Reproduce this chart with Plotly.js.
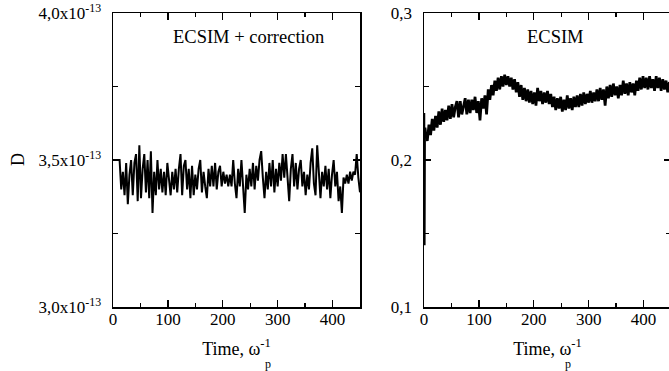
<!DOCTYPE html>
<html><head><meta charset="utf-8">
<script src="https://cdn.plot.ly/plotly-3.0.1.min.js"></script>
<style>html,body{margin:0;padding:0;overflow:hidden;background:#fff}#chart{width:671px;height:371px}</style>
</head><body><div id="chart"></div>
<script>
// Left panel: D (units of 1e-13), sampled every 3 time units from t=0
const leftStart = 0, leftStep = 3;
const leftD = [
3.50,3.50,3.50,3.50,3.50,3.40,3.46,3.38,3.49,3.35,
3.45,3.50,3.38,3.49,3.52,3.36,3.55,3.37,3.47,3.52,
3.39,3.50,3.37,3.53,3.32,3.46,3.38,3.50,3.40,3.47,
3.39,3.46,3.38,3.49,3.43,3.38,3.46,3.40,3.47,3.39,
3.47,3.52,3.38,3.48,3.50,3.40,3.47,3.37,3.48,3.38,
3.45,3.40,3.47,3.50,3.39,3.46,3.41,3.37,3.47,3.41,
3.48,3.41,3.49,3.40,3.46,3.48,3.41,3.46,3.42,3.45,
3.41,3.45,3.41,3.50,3.42,3.37,3.47,3.41,3.50,3.39,
3.32,3.45,3.40,3.47,3.41,3.49,3.40,3.48,3.43,3.50,
3.53,3.44,3.37,3.46,3.40,3.49,3.41,3.50,3.39,3.47,
3.41,3.49,3.43,3.52,3.44,3.52,3.42,3.36,3.47,3.52,
3.41,3.49,3.40,3.47,3.50,3.41,3.46,3.38,3.45,3.40,
3.49,3.54,3.42,3.38,3.55,3.45,3.37,3.46,3.41,3.48,
3.40,3.47,3.37,3.45,3.50,3.41,3.46,3.36,3.41,3.32,
3.44,3.42,3.45,3.42,3.46,3.43,3.46,3.45,3.52,3.44,
3.39
];
// Right panel: initial transient
const rightInitT = [0, 0.6, 1.2, 2, 3];
const rightInitD = [0.232, 0.142, 0.214, 0.222, 0.219];
// Right panel: main series sampled every 3 time units from t=3
const rightStart = 3, rightStep = 3;
const rightD = [
0.219,0.213,0.224,0.217,0.228,0.220,0.230,0.222,0.233,0.224,
0.235,0.226,0.234,0.227,0.237,0.228,0.238,0.229,0.236,0.240,
0.229,0.240,0.231,0.238,0.242,0.231,0.241,0.232,0.241,0.234,
0.243,0.232,0.240,0.227,0.242,0.235,0.244,0.231,0.248,0.241,
0.251,0.244,0.254,0.247,0.256,0.248,0.257,0.250,0.258,0.251,
0.257,0.250,0.256,0.248,0.255,0.246,0.253,0.243,0.251,0.241,
0.249,0.240,0.248,0.239,0.247,0.238,0.246,0.237,0.249,0.240,
0.247,0.238,0.246,0.239,0.247,0.238,0.245,0.236,0.243,0.234,
0.242,0.235,0.243,0.233,0.241,0.234,0.244,0.235,0.242,0.234,
0.243,0.236,0.244,0.236,0.245,0.237,0.246,0.238,0.245,0.239,
0.247,0.239,0.246,0.240,0.248,0.240,0.249,0.241,0.248,0.237,
0.250,0.242,0.251,0.243,0.252,0.244,0.250,0.242,0.251,0.244,
0.254,0.245,0.252,0.244,0.253,0.246,0.252,0.244,0.254,0.247,
0.256,0.248,0.257,0.249,0.256,0.248,0.257,0.249,0.255,0.247,
0.257,0.249,0.256,0.247,0.255,0.248,0.254,0.246,0.253,0.247
];
const leftTickVals = [3.0, 3.5, 4.0];
const leftTickText = ['3,0x10<sup>-13</sup>','3,5x10<sup>-13</sup>','4,0x10<sup>-13</sup>'];
const rightTickVals = [0.1, 0.2, 0.3];
const rightTickText = ['0,1','0,2','0,3'];
const xTitle = 'Time, ω<sup>-1</sup>';

const FONT = 'Liberation Serif, Times New Roman, serif';
const W = 671, H = 371;

const traces = [
  {type:'scatter', mode:'lines', x0:leftStart, dx:leftStep, y:leftD, xaxis:'x', yaxis:'y',
   line:{color:'black', width:2}},
  {type:'scatter', mode:'lines', x:rightInitT, y:rightInitD, xaxis:'x2', yaxis:'y2',
   line:{color:'black', width:2.5}},
  {type:'scatter', mode:'lines', x0:rightStart, dx:rightStep, y:rightD, xaxis:'x2', yaxis:'y2',
   line:{color:'black', width:2.7}}
];

function xax(dom, anchor){
  return {domain:dom, anchor:anchor, range:[0,450], tick0:0, dtick:100,
    ticks:'inside', ticklen:7, tickwidth:1.3, tickcolor:'black',
    showline:true, linewidth:1.5, linecolor:'black', mirror:'ticks',
    showgrid:false, zeroline:false, ticklabelstandoff:-4,
    tickfont:{family:FONT, size:17, color:'black'},
    minor:{dtick:50, ticks:'inside', ticklen:4, tickwidth:1.3, tickcolor:'black', showgrid:false},
    title:{text:xTitle, font:{family:FONT, size:18, color:'black'}, standoff:14}};
}
function yax(dom, anchor, rng, tv, tt, mdt){
  return {domain:dom, anchor:anchor, range:rng, tickmode:'array', tickvals:tv, ticktext:tt,
    ticks:'inside', ticklen:7, tickwidth:1.3, tickcolor:'black',
    showline:true, linewidth:1.5, linecolor:'black', mirror:'ticks',
    showgrid:false, zeroline:false, ticklabelstandoff:7,
    tickfont:{family:FONT, size:17, color:'black'},
    minor:{tickmode:'linear', tick0:rng[0], dtick:mdt, ticks:'inside', ticklen:5, tickwidth:1.3, tickcolor:'black', showgrid:false}};
}
const yDom = [64/H, 358/H];
const layout = {
  width:W, height:H, margin:{l:0,r:0,t:0,b:0},
  paper_bgcolor:'white', plot_bgcolor:'white', showlegend:false,
  font:{family:FONT, color:'black', size:17},
  xaxis: xax([113/W, 360/W], 'y'),
  yaxis: yax(yDom, 'x', [3.0, 4.0], leftTickVals, leftTickText, 0.25),
  xaxis2: xax([424/W, 1], 'y2'),
  yaxis2: yax(yDom, 'x2', [0.1, 0.3], rightTickVals, rightTickText, 0.05),
  annotations:[
    {text:'ECSIM + correction', xref:'paper', yref:'paper', x:248/W, y:1-37/H, xanchor:'center', yanchor:'middle', showarrow:false, font:{family:FONT, size:18.5, color:'black'}},
    {text:'ECSIM', xref:'paper', yref:'paper', x:555/W, y:1-37/H, xanchor:'center', yanchor:'middle', showarrow:false, font:{family:FONT, size:18.5, color:'black'}},
    {text:'D', xref:'paper', yref:'paper', x:18/W, y:1-160/H, xanchor:'center', yanchor:'middle', textangle:-90, showarrow:false, font:{family:FONT, size:18, color:'black'}},
    {text:'p', xref:'paper', yref:'paper', x:268/W, y:1-364/H, xanchor:'center', yanchor:'middle', showarrow:false, font:{family:FONT, size:12, color:'black'}},
    {text:'p', xref:'paper', yref:'paper', x:568/W, y:1-364/H, xanchor:'center', yanchor:'middle', showarrow:false, font:{family:FONT, size:12, color:'black'}}
  ]
};
Plotly.newPlot('chart', traces, layout, {staticPlot:true, displayModeBar:false});
</script></body></html>
